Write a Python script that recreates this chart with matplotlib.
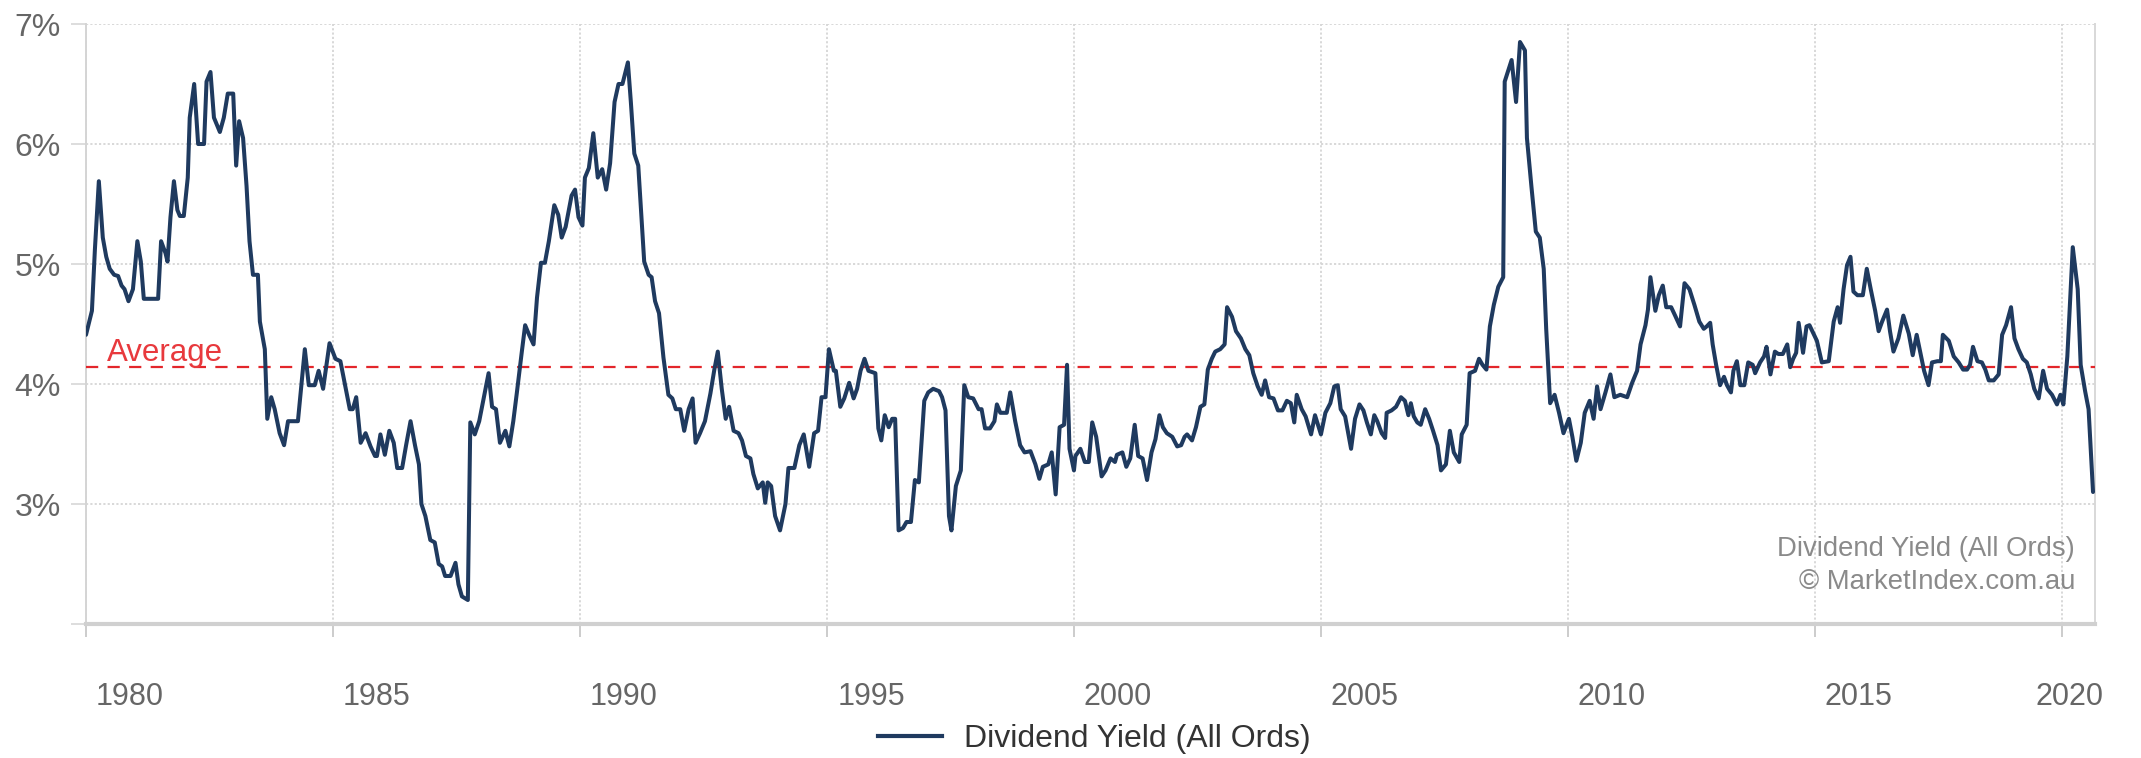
import matplotlib
matplotlib.use("Agg")
import matplotlib.pyplot as plt
import matplotlib.transforms as mtransforms
from matplotlib.lines import Line2D
import numpy as np

plt.rcParams['font.family'] = ['Liberation Sans', 'DejaVu Sans']

# All Ordinaries dividend yield (%), dates as decimal years
dates_1980s = [
    1980.00, 1980.12, 1980.18, 1980.26, 1980.30, 1980.34, 1980.41, 1980.48, 1980.57, 1980.65,
    1980.72, 1980.78, 1980.86, 1980.95, 1981.04, 1981.11, 1981.17, 1981.46, 1981.52, 1981.61,
    1981.65, 1981.71, 1981.78, 1981.85, 1981.90, 1981.98, 1982.06, 1982.10, 1982.19, 1982.27,
    1982.39, 1982.44, 1982.52, 1982.59, 1982.71, 1982.79, 1982.87, 1982.98, 1983.04, 1983.10,
    1983.18, 1983.25, 1983.31, 1983.38, 1983.48, 1983.52, 1983.62, 1983.67, 1983.75, 1983.82,
    1983.92, 1984.01, 1984.09, 1984.29, 1984.43, 1984.51, 1984.63, 1984.71, 1984.80, 1984.93,
    1985.05, 1985.15, 1985.26, 1985.34, 1985.40, 1985.47, 1985.56, 1985.66, 1985.76, 1985.85,
    1985.89, 1985.96, 1986.05, 1986.14, 1986.23, 1986.30, 1986.40, 1986.48, 1986.57, 1986.66,
    1986.74, 1986.79, 1986.87, 1986.97, 1987.06, 1987.14, 1987.21, 1987.27, 1987.38, 1987.48,
    1987.54, 1987.61, 1987.73, 1987.78, 1987.87, 1987.96, 1988.07, 1988.15, 1988.22, 1988.30,
    1988.38, 1988.49, 1988.57, 1988.65, 1988.72, 1988.82, 1988.89, 1988.97, 1989.06, 1989.13,
    1989.21, 1989.29, 1989.37, 1989.48, 1989.56, 1989.63, 1989.71, 1989.83, 1989.90, 1989.97,
]
yield_1980s = [
    4.41, 4.61, 5.12, 5.69, 5.45, 5.22, 5.06, 4.96, 4.91, 4.90,
    4.82, 4.79, 4.69, 4.79, 5.19, 5.02, 4.71, 4.71, 5.19, 5.09,
    5.02, 5.39, 5.69, 5.45, 5.40, 5.40, 5.72, 6.22, 6.50, 6.00,
    6.00, 6.52, 6.60, 6.22, 6.10, 6.22, 6.42, 6.42, 5.82, 6.19,
    6.05, 5.65, 5.19, 4.91, 4.91, 4.52, 4.29, 3.71, 3.89, 3.79,
    3.59, 3.49, 3.69, 3.69, 4.29, 3.99, 3.99, 4.11, 3.96, 4.34,
    4.21, 4.19, 3.96, 3.79, 3.79, 3.89, 3.51, 3.59, 3.48, 3.40,
    3.40, 3.58, 3.41, 3.61, 3.51, 3.30, 3.30, 3.49, 3.69, 3.49,
    3.33, 3.00, 2.90, 2.70, 2.68, 2.50, 2.48, 2.40, 2.40, 2.51,
    2.33, 2.23, 2.20, 3.68, 3.58, 3.69, 3.92, 4.09, 3.81, 3.79,
    3.51, 3.61, 3.48, 3.69, 3.92, 4.26, 4.49, 4.41, 4.33, 4.72,
    5.01, 5.01, 5.19, 5.49, 5.41, 5.22, 5.31, 5.57, 5.62, 5.39,
]

dates_1990s = [
    1990.05, 1990.10, 1990.18, 1990.27, 1990.36, 1990.45, 1990.53, 1990.61, 1990.70, 1990.78,
    1990.86, 1990.97, 1991.03, 1991.10, 1991.18, 1991.25, 1991.30, 1991.39, 1991.45, 1991.52,
    1991.60, 1991.69, 1991.79, 1991.87, 1991.94, 1992.03, 1992.11, 1992.20, 1992.28, 1992.34,
    1992.43, 1992.53, 1992.64, 1992.72, 1992.79, 1992.87, 1992.95, 1993.02, 1993.11, 1993.21,
    1993.28, 1993.36, 1993.45, 1993.51, 1993.60, 1993.70, 1993.75, 1993.80, 1993.87, 1993.95,
    1994.05, 1994.16, 1994.22, 1994.34, 1994.44, 1994.53, 1994.64, 1994.74, 1994.82, 1994.89,
    1994.97, 1995.04, 1995.14, 1995.18, 1995.27, 1995.35, 1995.45, 1995.54, 1995.61, 1995.68,
    1995.76, 1995.84, 1995.98, 1996.04, 1996.10, 1996.17, 1996.25, 1996.32, 1996.38, 1996.45,
    1996.54, 1996.61, 1996.70, 1996.78, 1996.86, 1996.97, 1997.05, 1997.15, 1997.27, 1997.33,
    1997.40, 1997.47, 1997.52, 1997.61, 1997.71, 1997.78, 1997.86, 1997.96, 1998.07, 1998.13,
    1998.20, 1998.30, 1998.39, 1998.44, 1998.51, 1998.64, 1998.71, 1998.81, 1998.91, 1999.00,
    1999.12, 1999.22, 1999.30, 1999.37, 1999.48, 1999.55, 1999.63, 1999.71, 1999.80, 1999.86,
    1999.91, 2000.00,
]
yield_1990s = [
    5.32, 5.72, 5.80, 6.09, 5.72, 5.79, 5.62, 5.84, 6.35, 6.50,
    6.50, 6.68, 6.35, 5.92, 5.82, 5.36, 5.02, 4.91, 4.89, 4.69,
    4.59, 4.22, 3.91, 3.88, 3.79, 3.79, 3.61, 3.79, 3.88, 3.51,
    3.59, 3.69, 3.92, 4.12, 4.27, 3.96, 3.71, 3.81, 3.61, 3.59,
    3.53, 3.40, 3.38, 3.25, 3.13, 3.18, 3.01, 3.18, 3.15, 2.90,
    2.78, 3.00, 3.30, 3.30, 3.49, 3.58, 3.31, 3.59, 3.61, 3.89,
    3.89, 4.29, 4.11, 4.11, 3.81, 3.88, 4.01, 3.88, 3.96, 4.11,
    4.21, 4.11, 4.09, 3.63, 3.53, 3.74, 3.64, 3.71, 3.71, 2.78,
    2.80, 2.85, 2.85, 3.20, 3.18, 3.86, 3.93, 3.96, 3.94, 3.89,
    3.78, 2.90, 2.78, 3.15, 3.28, 3.99, 3.89, 3.88, 3.79, 3.79,
    3.63, 3.63, 3.69, 3.83, 3.76, 3.76, 3.93, 3.69, 3.49, 3.43,
    3.44, 3.33, 3.21, 3.31, 3.33, 3.43, 3.08, 3.64, 3.66, 4.16,
    3.46, 3.28,
]

dates_2000s = [
    2000.03, 2000.13, 2000.22, 2000.30, 2000.37, 2000.45, 2000.56, 2000.64, 2000.74, 2000.83,
    2000.87, 2000.98, 2001.06, 2001.14, 2001.23, 2001.30, 2001.39, 2001.48, 2001.57, 2001.65,
    2001.73, 2001.80, 2001.88, 2001.99, 2002.09, 2002.17, 2002.24, 2002.29, 2002.39, 2002.47,
    2002.56, 2002.64, 2002.71, 2002.79, 2002.86, 2002.96, 2003.05, 2003.10, 2003.20, 2003.28,
    2003.38, 2003.47, 2003.55, 2003.63, 2003.72, 2003.80, 2003.87, 2003.95, 2004.04, 2004.13,
    2004.22, 2004.31, 2004.39, 2004.46, 2004.51, 2004.61, 2004.69, 2004.80, 2004.88, 2005.00,
    2005.09, 2005.19, 2005.27, 2005.34, 2005.40, 2005.49, 2005.61, 2005.69, 2005.78, 2005.86,
    2005.93, 2006.01, 2006.08, 2006.14, 2006.23, 2006.30, 2006.33, 2006.43, 2006.52, 2006.62,
    2006.70, 2006.77, 2006.82, 2006.88, 2006.95, 2007.02, 2007.11, 2007.19, 2007.27, 2007.36,
    2007.43, 2007.53, 2007.61, 2007.69, 2007.80, 2007.85, 2007.95, 2008.01, 2008.12, 2008.20,
    2008.27, 2008.35, 2008.42, 2008.50, 2008.59, 2008.69, 2008.72, 2008.86, 2008.95, 2009.03,
    2009.13, 2009.17, 2009.26, 2009.35, 2009.43, 2009.51, 2009.56, 2009.64, 2009.73, 2009.82,
    2009.91,
]
yield_2000s = [
    3.40, 3.46, 3.35, 3.35, 3.68, 3.56, 3.23, 3.28, 3.38, 3.35,
    3.41, 3.43, 3.31, 3.38, 3.66, 3.40, 3.38, 3.20, 3.43, 3.54,
    3.74, 3.64, 3.59, 3.56, 3.48, 3.49, 3.56, 3.58, 3.53, 3.64,
    3.81, 3.83, 4.12, 4.21, 4.27, 4.29, 4.33, 4.64, 4.56, 4.44,
    4.38, 4.29, 4.24, 4.09, 3.98, 3.91, 4.03, 3.89, 3.88, 3.78,
    3.78, 3.86, 3.84, 3.68, 3.91, 3.79, 3.73, 3.58, 3.74, 3.58,
    3.76, 3.84, 3.98, 3.99, 3.79, 3.73, 3.46, 3.71, 3.83, 3.78,
    3.68, 3.58, 3.74, 3.69, 3.59, 3.55, 3.76, 3.78, 3.81, 3.89,
    3.86, 3.74, 3.84, 3.73, 3.68, 3.66, 3.79, 3.71, 3.61, 3.49,
    3.28, 3.33, 3.61, 3.43, 3.35, 3.58, 3.66, 4.09, 4.11, 4.21,
    4.16, 4.12, 4.48, 4.66, 4.81, 4.89, 6.52, 6.70, 6.35, 6.85,
    6.78, 6.05, 5.65, 5.27, 5.22, 4.96, 4.46, 3.84, 3.91, 3.76,
    3.59,
]

dates_2010s = [
    2010.02, 2010.09, 2010.17, 2010.26, 2010.34, 2010.44, 2010.52, 2010.59, 2010.66, 2010.76,
    2010.86, 2010.94, 2011.06, 2011.20, 2011.30, 2011.40, 2011.47, 2011.57, 2011.62, 2011.67,
    2011.77, 2011.84, 2011.92, 2011.99, 2012.09, 2012.17, 2012.27, 2012.36, 2012.46, 2012.56,
    2012.66, 2012.75, 2012.81, 2012.88, 2012.93, 2013.00, 2013.08, 2013.16, 2013.22, 2013.30,
    2013.35, 2013.42, 2013.49, 2013.57, 2013.65, 2013.74, 2013.79, 2013.89, 2013.97, 2014.02,
    2014.10, 2014.19, 2014.26, 2014.35, 2014.44, 2014.50, 2014.56, 2014.62, 2014.67, 2014.76,
    2014.83, 2014.89, 2015.04, 2015.14, 2015.28, 2015.38, 2015.46, 2015.51, 2015.58, 2015.65,
    2015.72, 2015.78, 2015.86, 2015.97, 2016.05, 2016.13, 2016.22, 2016.29, 2016.36, 2016.46,
    2016.52, 2016.59, 2016.69, 2016.79, 2016.90, 2016.98, 2017.06, 2017.15, 2017.21, 2017.30,
    2017.37, 2017.48, 2017.55, 2017.59, 2017.71, 2017.81, 2017.91, 2018.00, 2018.08, 2018.14,
    2018.20, 2018.29, 2018.38, 2018.45, 2018.52, 2018.62, 2018.72, 2018.79, 2018.87, 2018.97,
    2019.04, 2019.12, 2019.21, 2019.29, 2019.37, 2019.44, 2019.53, 2019.62, 2019.70, 2019.80,
    2019.90, 2019.97, 2020.03, 2020.11, 2020.22, 2020.32, 2020.38, 2020.47, 2020.54, 2020.63,
]
yield_2010s = [
    3.71, 3.56, 3.36, 3.51, 3.76, 3.86, 3.71, 3.98, 3.79, 3.93,
    4.08, 3.89, 3.91, 3.89, 4.01, 4.11, 4.33, 4.49, 4.62, 4.89,
    4.61, 4.74, 4.82, 4.64, 4.64, 4.57, 4.48, 4.84, 4.79, 4.66,
    4.52, 4.46, 4.48, 4.51, 4.33, 4.16, 3.99, 4.06, 3.99, 3.93,
    4.11, 4.19, 3.99, 3.99, 4.18, 4.16, 4.09, 4.18, 4.23, 4.31,
    4.08, 4.27, 4.25, 4.25, 4.33, 4.14, 4.21, 4.26, 4.51, 4.26,
    4.48, 4.49, 4.36, 4.18, 4.19, 4.52, 4.64, 4.51, 4.79, 4.99,
    5.06, 4.77, 4.74, 4.74, 4.96, 4.79, 4.61, 4.44, 4.52, 4.62,
    4.44, 4.27, 4.38, 4.57, 4.42, 4.24, 4.41, 4.23, 4.11, 3.99,
    4.18, 4.19, 4.19, 4.41, 4.36, 4.23, 4.18, 4.12, 4.12, 4.16,
    4.31, 4.19, 4.18, 4.12, 4.03, 4.03, 4.08, 4.41, 4.49, 4.64,
    4.38, 4.29, 4.21, 4.18, 4.08, 3.96, 3.88, 4.11, 3.96, 3.91,
    3.83, 3.91, 3.83, 4.23, 5.14, 4.79, 4.16, 3.94, 3.79, 3.10,
]

average_yield = 4.14
year_ticks = [1980, 1985, 1990, 1995, 2000, 2005, 2010, 2015, 2020]
pct_ticks = [2, 3, 4, 5, 6, 7]
series_name = "Dividend Yield (All Ords)"
credit_lines = ["Dividend Yield (All Ords)", "\u00a9 MarketIndex.com.au"]

dates = np.array(dates_1980s + dates_1990s + dates_2000s + dates_2010s)
yields = np.array(yield_1980s + yield_1990s + yield_2000s + yield_2010s)

W, H = 2141, 758
fig = plt.figure(figsize=(W / 100, H / 100), dpi=100)
fig.patch.set_facecolor('white')
ax = fig.add_axes([86 / W, 1 - 624 / H, (2095 - 86) / W, 600 / H])

line_color = '#1f3a5f'
ax.plot(dates, yields, color=line_color, lw=2.9, solid_joinstyle='round',
        solid_capstyle='round', zorder=4)

ax.axhline(average_yield, color='#e3262b', lw=1.6, dashes=(5.5, 4.2), zorder=3)
ax.text(1980.42, average_yield + 0.05, 'Average', color='#e8393d',
        fontsize=22.5, va='baseline', ha='left', zorder=5)

ax.set_xlim(1980.0, 2020.67)
ax.set_ylim(2, 7)

ax.set_xticks(year_ticks)
ax.set_xticklabels([str(y) for y in year_ticks])
ax.set_yticks(pct_ticks)
ax.set_yticklabels(['' if v == 2 else f'{v}%' for v in pct_ticks])

ax.grid(True, color='#d6d6d6', linestyle=(0, (1.2, 1.2)), lw=1.3, zorder=0)

ax.tick_params(axis='x', length=9, width=1.4, color='#cccccc', pad=33,
               labelsize=22, labelcolor='#666666')
ax.tick_params(axis='y', length=11, width=1.4, color='#dddddd', pad=7,
               labelsize=23, labelcolor='#666666')

# shift year labels to the right of their gridlines
offsets = [0.44] * (len(year_ticks) - 1) + [0.08]
for lab, dx in zip(ax.get_xticklabels(), offsets):
    lab.set_transform(lab.get_transform() +
                      mtransforms.ScaledTranslation(dx, 0, fig.dpi_scale_trans))

ax.spines['top'].set_visible(False)
ax.spines['bottom'].set_color('#d0d0d0')
ax.spines['bottom'].set_linewidth(3.0)
ax.spines['left'].set_color('#d4d4d4')
ax.spines['left'].set_linewidth(1.4)
ax.spines['right'].set_color('#d8d8d8')
ax.spines['right'].set_linewidth(1.4)

ax.text(0.990, 0.125, credit_lines[0], transform=ax.transAxes, ha='right',
        va='center', fontsize=19.8, color='#8a8a8a')
ax.text(0.990, 0.070, credit_lines[1], transform=ax.transAxes, ha='right',
        va='center', fontsize=19.8, color='#8a8a8a')

handle = Line2D([], [], color=line_color, lw=3)
fig.legend([handle], [series_name], loc='center', bbox_to_anchor=(0.511, 19 / H),
           frameon=False, fontsize=23, labelcolor='#333333',
           handlelength=2.0, handletextpad=0.7)

fig.savefig('out.png', dpi=100, facecolor='white')
